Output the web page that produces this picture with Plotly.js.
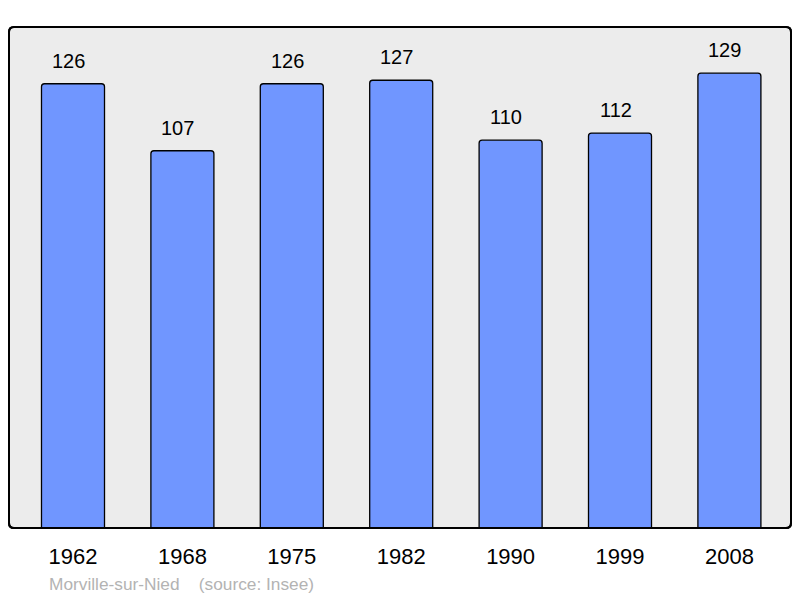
<!DOCTYPE html>
<html>
<head>
<meta charset="utf-8">
<script src="https://cdn.plot.ly/plotly-3.0.1.min.js"></script>
<style>html,body{margin:0;padding:0;background:#fff;}#chart{width:800px;height:598px;}</style>
</head>
<body>
<div id="chart"></div>
<script>
const years = ['1962','1968','1975','1982','1990','1999','2008'];
const population = [126,107,126,127,110,112,129];
const footerText = 'Morville-sur-Nied\u00a0\u00a0\u00a0\u00a0(source: Insee)';

const W = 800, H = 598;
const L = 9, R = 9, T = 27, B = 70;
const pw = W - L - R, ph = H - T - B;
const rad = 5;
const fx = p => (p - L) / pw, fy = p => 1 - (p - T) / ph;
const x0 = L, x1 = W - R, y0 = T, y1 = H - B;
const path = [
  'M', fx(x0 + rad), fy(y0),
  'L', fx(x1 - rad), fy(y0),
  'Q', fx(x1), fy(y0), fx(x1), fy(y0 + rad),
  'L', fx(x1), fy(y1 - rad),
  'Q', fx(x1), fy(y1), fx(x1 - rad), fy(y1),
  'L', fx(x0 + rad), fy(y1),
  'Q', fx(x0), fy(y1), fx(x0), fy(y1 - rad),
  'L', fx(x0), fy(y0 + rad),
  'Q', fx(x0), fy(y0), fx(x0 + rad), fy(y0), 'Z'
].join(' ');

const FONT = 'Liberation Sans, Arial, sans-serif';

const trace = {
  type: 'bar',
  x: years,
  y: population,
  width: 0.576,
  marker: {color: '#7096ff', line: {color: '#000', width: 1.3}, cornerradius: 3},
  hoverinfo: 'none'
};

const annotations = years.map((yr, i) => ({
  x: i, y: population[i], xref: 'x', yref: 'y',
  text: String(population[i]), showarrow: false,
  xanchor: 'center', yanchor: 'bottom', yshift: 10, xshift: -4.5,
  font: {family: FONT, size: 20, color: '#000'}
}));
annotations.push({
  xref: 'paper', yref: 'paper', x: fx(47), y: fy(584), xanchor: 'left', yanchor: 'middle',
  text: footerText, showarrow: false,
  font: {family: FONT, size: 17.3, color: '#b3b3b3'}
});

const layout = {
  width: W, height: H,
  margin: {l: L, r: R, t: T, b: B, pad: 0},
  paper_bgcolor: '#fff',
  plot_bgcolor: 'rgba(0,0,0,0)',
  showlegend: false,
  xaxis: {
    type: 'category', range: [-0.585, 6.563], fixedrange: true,
    showgrid: false, zeroline: false, showline: false, ticks: '',
    ticklabelstandoff: 13,
    tickfont: {family: FONT, size: 22, color: '#000'}
  },
  yaxis: {
    range: [0, 142.1], showgrid: false, zeroline: false, showline: false,
    showticklabels: false, ticks: '', fixedrange: true
  },
  shapes: [{
    type: 'path', xref: 'paper', yref: 'paper', path: path,
    fillcolor: '#ececec', line: {color: '#000', width: 2}, layer: 'below'
  }, {
    type: 'path', xref: 'paper', yref: 'paper', path: path,
    fillcolor: 'rgba(0,0,0,0)', line: {color: '#000', width: 2}, layer: 'above'
  }],
  annotations: annotations
};

Plotly.newPlot('chart', [trace], layout, {displayModeBar: false, staticPlot: true});
</script>
</body>
</html>
